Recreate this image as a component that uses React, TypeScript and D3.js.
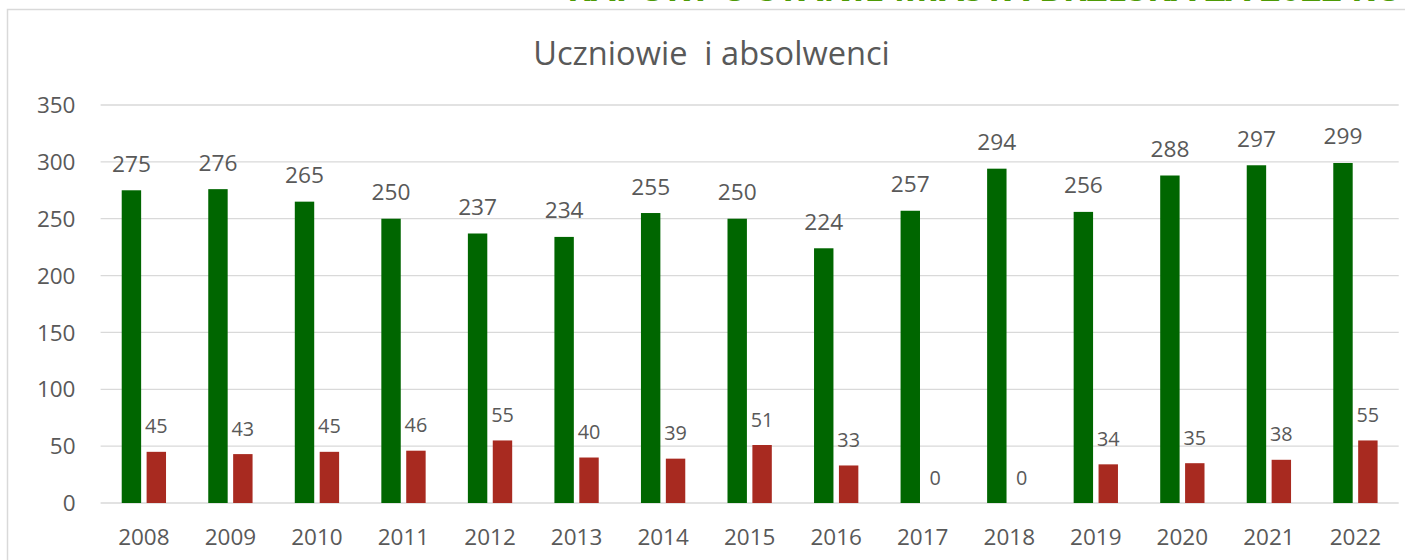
import React from "react";
import * as d3 from "d3";

const years = ["2008","2009","2010","2011","2012","2013","2014","2015","2016","2017","2018","2019","2020","2021","2022"];
const uczniowie = [275,276,265,250,237,234,255,250,224,257,294,256,288,297,299];
const absolwenci = [45,43,45,46,55,40,39,51,33,0,0,34,35,38,55];
const yTicks = [0,50,100,150,200,250,300,350];
const title = "Uczniowie  i absolwenci";
const headerText = "RAPORT O STANIE MIASTA BRZESKA ZA 2022 ROK";

const W = 1405, H = 560;
const FONT = "'Open Sans', sans-serif";
const TXT = "#595959";

export default function App() {
  const x = d3.scaleBand<string>().domain(years).range([100.6, 1398.7]).paddingInner(0.488).paddingOuter(0.244);
  const x1 = d3.scaleBand<string>().domain(["u","a"]).range([0, x.bandwidth()]).paddingInner(0.22).paddingOuter(0);
  const y = d3.scaleLinear().domain([0, 350]).range([503, 105]);
  const series = [
    { key: "u", vals: uczniowie, color: "#006600", fs: 22.7 },
    { key: "a", vals: absolwenci, color: "#A82A20", fs: 19.8 },
  ];
  return (
    <svg width={W} height={H} style={{ position: "absolute", left: 0, top: 0, background: "#fff" }}>
      <text x={567} y={1} fill="#4E9A06" fontFamily={FONT} fontWeight="bold" fontSize={40} textLength={860} lengthAdjust="spacingAndGlyphs">{headerText}</text>
      <rect x={7.5} y={9.5} width={1420} height={600} fill="none" stroke="#D9D9D9" strokeWidth={1.5} />
      <text x={711.5} y={65} textAnchor="middle" fill={TXT} fontFamily={FONT} fontSize={32.6} style={{ whiteSpace: "pre" }}>{title}</text>
      {yTicks.map(t => (
        <g key={t}>
          <line x1={100.6} x2={1398.7} y1={y(t)} y2={y(t)} stroke="#D9D9D9" strokeWidth={1.3} />
          <text x={75.5} y={y(t)} dy="0.36em" textAnchor="end" fill={TXT} fontFamily={FONT} fontSize={22.5}>{t}</text>
        </g>
      ))}
      {years.map((yr, i) => (
        <g key={yr} transform={`translate(${x(yr)},0)`}>
          {series.map(s => {
            const bx = x1(s.key)!;
            const v = s.vals[i];
            return (
              <g key={s.key}>
                <rect x={bx} y={y(v)} width={x1.bandwidth()} height={y(0) - y(v)} fill={s.color} />
                <text x={bx + x1.bandwidth() / 2} y={y(v) - 18.5} textAnchor="middle" fill={TXT} fontFamily={FONT} fontSize={s.fs}>{v}</text>
              </g>
            );
          })}
          <text x={x.bandwidth() / 2} y={545} textAnchor="middle" fill={TXT} fontFamily={FONT} fontSize={22.5}>{yr}</text>
        </g>
      ))}
    </svg>
  );
}
